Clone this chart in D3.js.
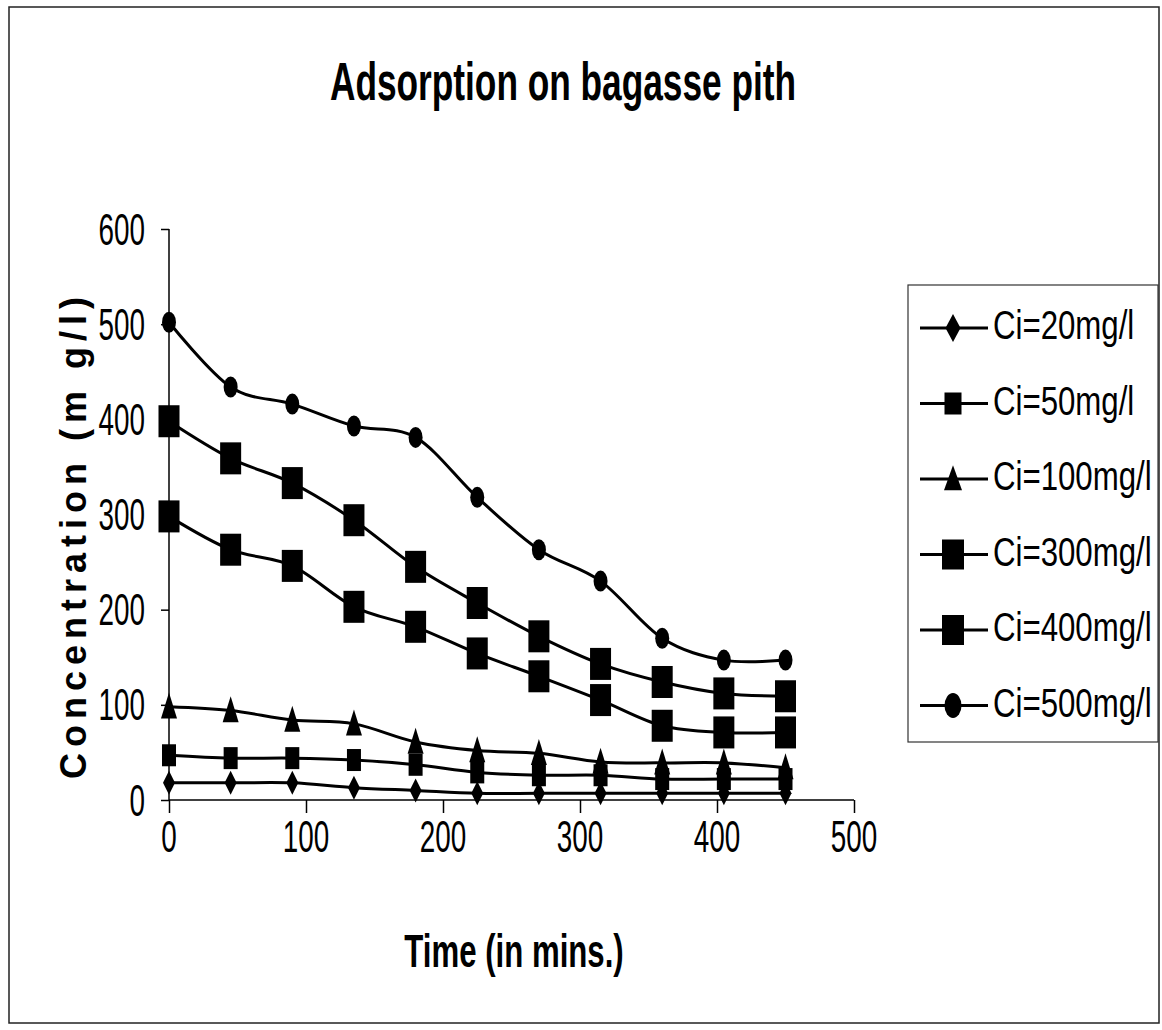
<!DOCTYPE html>
<html>
<head>
<meta charset="utf-8">
<script src="https://cdn.jsdelivr.net/npm/d3@7"></script>
<style>
  html, body { margin: 0; padding: 0; background: #fff; }
  svg { display: block; }
</style>
</head>
<body>
<svg id="chart" width="1162" height="1030"></svg>
<script>
// Sampling times (minutes)
const times = [0, 45, 90, 135, 180, 225, 270, 315, 360, 405, 450];

// Residual concentration (mg/l) for each initial concentration
const c20  = [18, 18, 18, 13, 10, 7, 7, 7, 7, 7, 7];
const c50  = [47, 44, 44, 42, 37, 29, 26, 26, 22, 22, 22];
const c100 = [98, 94, 84, 80, 61, 52, 49, 40, 39, 39, 34];
const c300 = [298, 263, 246, 203, 182, 154, 130, 105, 78, 71, 71];
const c400 = [398, 359, 333, 294, 245, 207, 172, 143, 124, 112, 109];
const c500 = [502, 434, 416, 393, 381, 318, 263, 230, 170, 147, 147];

const seriesNames = ["Ci=20mg/l", "Ci=50mg/l", "Ci=100mg/l", "Ci=300mg/l", "Ci=400mg/l", "Ci=500mg/l"];
const seriesValues = [c20, c50, c100, c300, c400, c500];
const seriesMarkers = ["diamond", "square", "triangle", "bigsquare", "bigsquare", "circle"];

const xTicks = [0, 100, 200, 300, 400, 500];
const yTicks = [0, 100, 200, 300, 400, 500, 600];

const titleText = "Adsorption on bagasse pith";
const xTitle = "Time (in mins.)";
const yTitle = "Concentration (m g/l)";

const FONT = "'Liberation Sans', Arial, sans-serif";
const NARROW_X = 0.82; // horizontal squeeze giving a narrow face

const svg = d3.select("#chart");
svg.append("rect").attr("width", 1162).attr("height", 1030).attr("fill", "#fff");

// outer frame
svg.append("rect")
  .attr("x", 9).attr("y", 7).attr("width", 1150).attr("height", 1016)
  .attr("fill", "none").attr("stroke", "#222").attr("stroke-width", 1.5);

const x = d3.scaleLinear().domain([0, 500]).range([169, 854]);
const y = d3.scaleLinear().domain([0, 600]).range([800, 229]);

// text helper: glyphs are drawn tall and narrow, so scale each label
function label(parent, text, px, py, o) {
  const g = parent.append("g")
    .attr("transform", `translate(${px},${py}) rotate(${o.rotate || 0}) scale(${o.sx || 1},${o.sy || 1})`);
  g.append("text")
    .attr("x", 0).attr("y", 0)
    .attr("text-anchor", o.anchor || "start")
    .attr("dominant-baseline", o.baseline || "alphabetic")
    .attr("font-family", FONT)
    .attr("font-weight", o.weight || "normal")
    .attr("font-size", o.size)
    .attr("letter-spacing", o.spacing || 0)
    .attr("fill", "#000")
    .text(text);
  return g;
}

// title
label(svg, titleText, 563, 100, { size: 43, sx: NARROW_X, sy: 1.24, weight: "bold", anchor: "middle" });

// axes
const xAxis = d3.axisBottom(x).tickValues(xTicks).tickSize(13).tickFormat("");
const yAxis = d3.axisLeft(y).tickValues(yTicks).tickSize(8).tickFormat("");

const gx = svg.append("g").attr("transform", `translate(0,${y(0)})`).call(xAxis);
const gy = svg.append("g").attr("transform", `translate(${x(0)},0)`).call(yAxis);
[gx, gy].forEach(g => {
  g.select(".domain").attr("stroke", "#000").attr("stroke-width", 1.5);
  g.selectAll(".tick line").attr("stroke", "#000").attr("stroke-width", 1.5);
});
gx.select(".domain").attr("d", `M${x(0)},0H${x(500)}`);
gy.select(".domain").attr("d", `M0,${y(600)}V${y(0)}`);

// tick labels
yTicks.forEach(v => {
  label(svg, String(v), 145, y(v), { size: 34, sx: NARROW_X, sy: 1.31, anchor: "end", baseline: "central" });
});
xTicks.forEach(v => {
  label(svg, String(v), x(v), 836, { size: 34, sx: NARROW_X, sy: 1.31, anchor: "middle", baseline: "central" });
});

// axis titles
label(svg, xTitle, 514, 967, { size: 40, sx: 0.78, sy: 1.16, weight: "bold", anchor: "middle" });
label(svg, yTitle, 86, 535, { size: 36, rotate: -90, weight: "bold", anchor: "middle", spacing: 6 });

// marker shapes
const plotSize = {
  diamond: [12, 24], square: [14, 22], triangle: [16, 26], bigsquare: [21, 32], circle: [14, 21]
};
const legendSize = {
  diamond: [15, 28], square: [17, 22], triangle: [18, 25], bigsquare: [22, 30], circle: [17, 25]
};
function drawMarker(g, kind, cx, cy, size) {
  const [w, h] = size;
  if (kind === "circle") {
    g.append("ellipse").attr("cx", cx).attr("cy", cy).attr("rx", w / 2).attr("ry", h / 2).attr("fill", "#000");
  } else if (kind === "square" || kind === "bigsquare") {
    g.append("rect").attr("x", cx - w / 2).attr("y", cy - h / 2).attr("width", w).attr("height", h).attr("fill", "#000");
  } else if (kind === "diamond") {
    g.append("path").attr("d", `M${cx},${cy - h / 2}L${cx + w / 2},${cy}L${cx},${cy + h / 2}L${cx - w / 2},${cy}Z`).attr("fill", "#000");
  } else if (kind === "triangle") {
    g.append("path").attr("d", `M${cx},${cy - h * 0.55}L${cx + w / 2},${cy + h * 0.45}L${cx - w / 2},${cy + h * 0.45}Z`).attr("fill", "#000");
  }
}

// smoothed series lines and markers
const line = d3.line()
  .x(d => x(d[0]))
  .y(d => y(d[1]))
  .curve(d3.curveCatmullRom.alpha(0));

seriesValues.forEach((vals, i) => {
  const pts = times.map((t, j) => [t, vals[j]]);
  const g = svg.append("g");
  g.append("path").attr("d", line(pts)).attr("fill", "none").attr("stroke", "#000").attr("stroke-width", 3);
  pts.forEach(p => drawMarker(g, seriesMarkers[i], x(p[0]), y(p[1]), plotSize[seriesMarkers[i]]));
});

// legend
const legend = svg.append("g");
legend.append("rect")
  .attr("x", 908).attr("y", 285).attr("width", 250).attr("height", 457)
  .attr("fill", "#fff").attr("stroke", "#333").attr("stroke-width", 1.2);
seriesNames.forEach((name, i) => {
  const ly = 328 + i * 75.5;
  legend.append("line").attr("x1", 920).attr("x2", 988).attr("y1", ly).attr("y2", ly)
    .attr("stroke", "#000").attr("stroke-width", 3);
  drawMarker(legend, seriesMarkers[i], 953, ly, legendSize[seriesMarkers[i]]);
  label(legend, name, 993, ly + 11, { size: 40, sx: 0.78, sy: 1.0 });
});
</script>
</body>
</html>
